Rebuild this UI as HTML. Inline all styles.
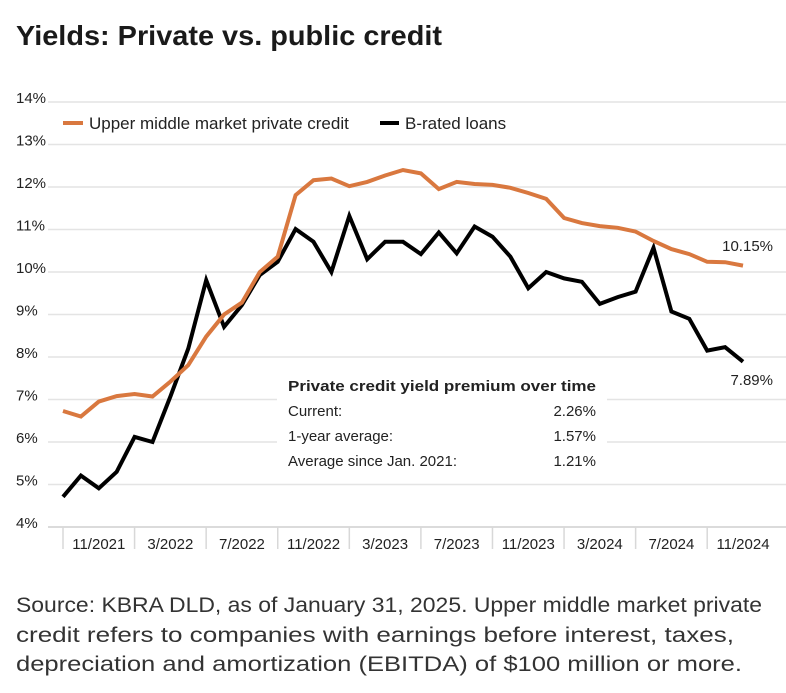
<!DOCTYPE html>
<html><head><meta charset="utf-8"><style>
body{margin:0;background:#fff;}
svg{display:block;font-family:"Liberation Sans",sans-serif;}
</style></head><body>
<svg id="chart" width="786" height="693" viewBox="0 0 786 693">
<text x="16" y="45" font-size="28" font-weight="bold" fill="#1a1a1a" textLength="426" lengthAdjust="spacingAndGlyphs">Yields: Private vs. public credit</text>
<g id="grid"></g>
<g id="ylabels"></g>
<g id="xaxis"></g>
<rect x="277" y="370" width="330" height="102" fill="#fff"/>
<g id="lines"></g>
<g>
<line x1="63" y1="123" x2="83" y2="123" stroke="#d9783f" stroke-width="4"/>
<text x="89" y="129" font-size="17" fill="#222">Upper middle market private credit</text>
<line x1="380" y1="123" x2="399" y2="123" stroke="#000" stroke-width="4"/>
<text x="405" y="129" font-size="17" fill="#222">B-rated loans</text>
</g>
<text x="773" y="251" font-size="15" fill="#222" text-anchor="end">10.15%</text>
<text x="773" y="385" font-size="15" fill="#222" text-anchor="end">7.89%</text>
<g font-size="15" fill="#222">
<text x="288" y="391" font-weight="bold" textLength="308" lengthAdjust="spacingAndGlyphs">Private credit yield premium over time</text>
<text x="288" y="416">Current:</text>
<text x="596" y="416" text-anchor="end">2.26%</text>
<text x="288" y="441">1-year average:</text>
<text x="596" y="441" text-anchor="end">1.57%</text>
<text x="288" y="466">Average since Jan. 2021:</text>
<text x="596" y="466" text-anchor="end">1.21%</text>
</g>
<g font-size="21.5" fill="#333">
<text x="16" y="612" textLength="746" lengthAdjust="spacingAndGlyphs">Source: KBRA DLD, as of January 31, 2025. Upper middle market private</text>
<text x="16" y="642" textLength="718" lengthAdjust="spacingAndGlyphs">credit refers to companies with earnings before interest, taxes,</text>
<text x="16" y="671" textLength="726" lengthAdjust="spacingAndGlyphs">depreciation and amortization (EBITDA) of $100 million or more.</text>
</g>
</svg>
<script>
const yTicks = [4,5,6,7,8,9,10,11,12,13,14];
const xLabels = ["11/2021","3/2022","7/2022","11/2022","3/2023","7/2023","11/2023","3/2024","7/2024","11/2024"];
const privateCredit = [6.73,6.6,6.95,7.08,7.13,7.07,7.42,7.81,8.48,9.0,9.28,10.0,10.36,11.81,12.16,12.2,12.02,12.12,12.27,12.4,12.32,11.95,12.12,12.07,12.05,11.98,11.86,11.72,11.27,11.15,11.08,11.04,10.95,10.73,10.54,10.42,10.24,10.23,10.15];
const bLoans = [4.71,5.21,4.91,5.3,6.12,6.0,7.07,8.2,9.81,8.71,9.22,9.93,10.24,11.01,10.71,10.0,11.32,10.3,10.71,10.71,10.42,10.93,10.44,11.07,10.83,10.36,9.62,10.0,9.85,9.77,9.25,9.41,9.54,10.57,9.07,8.9,8.15,8.23,7.89];
const NS="http://www.w3.org/2000/svg";
const x0=63, x1=743, yTop=102, yBot=527;
function xS(i){return x0+(x1-x0)*i/(privateCredit.length-1);}
function yS(v){return yBot-(v-4)/(14-4)*(yBot-yTop);}
const grid=document.getElementById('grid'), yl=document.getElementById('ylabels'), xa=document.getElementById('xaxis'), lines=document.getElementById('lines');
yTicks.forEach(t=>{
  const l=document.createElementNS(NS,'line');
  
  
  l.setAttribute('x1',48);l.setAttribute('x2',786);l.setAttribute('y1',yS(t));l.setAttribute('y2',yS(t));
  l.setAttribute('stroke',t===4?'#cfcfcf':'#e4e4e4');l.setAttribute('stroke-width',1.5);
  grid.appendChild(l);
  const tx=document.createElementNS(NS,'text');
  
  
  tx.setAttribute('x',16);tx.setAttribute('y',yS(t)+1);tx.setAttribute('font-size',15);tx.setAttribute('fill','#222');
  tx.textContent=t+'%';yl.appendChild(tx);
});
for(let k=0;k<xLabels.length;k++){
  const xx=xS(k*4);
  const l=document.createElementNS(NS,'line');
  
  
  l.setAttribute('x1',xx);l.setAttribute('x2',xx);l.setAttribute('y1',yBot);l.setAttribute('y2',yBot+22);
  l.setAttribute('stroke','#d8d8d8');l.setAttribute('stroke-width',1.5);
  xa.appendChild(l);
}
xLabels.forEach((lab,k)=>{
  const tx=document.createElementNS(NS,'text');
  
  
  tx.setAttribute('x',xS(k*4+2));tx.setAttribute('y',549);tx.setAttribute('font-size',15);
  tx.setAttribute('text-anchor','middle');tx.setAttribute('fill','#222');
  tx.textContent=lab;xa.appendChild(tx);
});
function drawLine(arr,color,w,name){
  const p=document.createElementNS(NS,'polyline');
  
  
  p.setAttribute('points',arr.map((v,i)=>xS(i).toFixed(1)+','+yS(v).toFixed(1)).join(' '));
  p.setAttribute('fill','none');p.setAttribute('stroke',color);p.setAttribute('stroke-width',w);
  lines.appendChild(p);
}
drawLine(bLoans,'#000',4,'line-b-rated-loans');
drawLine(privateCredit,'#d9783f',4,'line-private-credit');
</script>
</body></html>
